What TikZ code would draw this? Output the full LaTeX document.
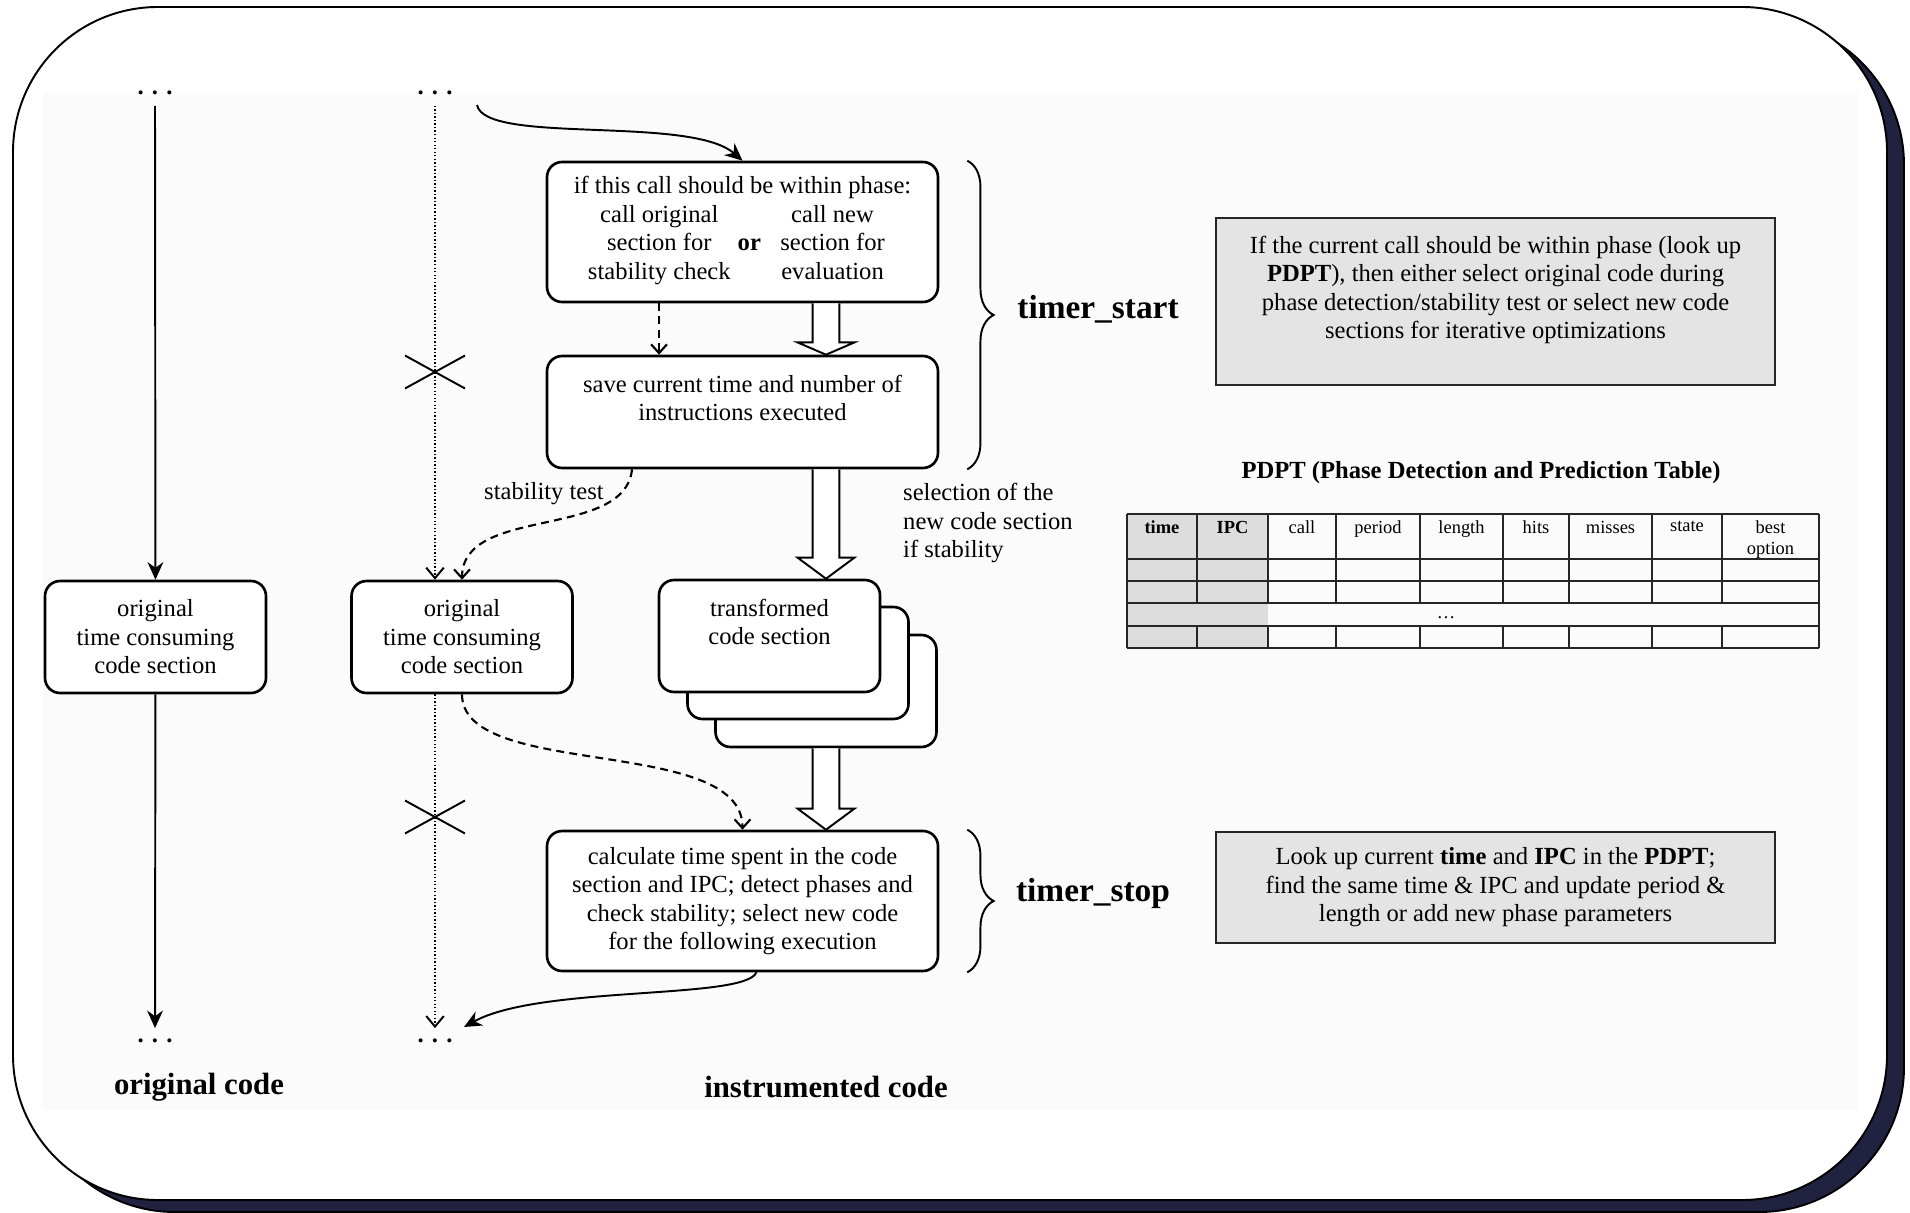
\documentclass[tikz,border=0pt]{standalone}
\usepackage{fontspec}
\setmainfont{Liberation Serif}
\usetikzlibrary{arrows.meta, calc, positioning, decorations.pathreplacing, shapes.misc}
\definecolor{FrameNavy}{HTML}{212140}
\definecolor{PanelGray}{HTML}{FBFBFB}
\definecolor{NoteGray}{HTML}{E5E4E4}
\definecolor{KeyGray}{HTML}{DDDDDD}

\newcommand{\bodyfont}{\fontsize{14}{16.2}\selectfont}
\newcommand{\cellfont}{\fontsize{10.5}{12}\selectfont}

\tikzset{
    % boxes of the code flow
    codebox/.style={
        rectangle,
        rounded corners=0.3cm,
        draw=black,
        fill=white,
        line width=1.5pt,
        minimum width=4.42cm,
        minimum height=2.24cm,
        inner sep=2pt,
        align=center,
        font=\bodyfont
    },
    stepbox/.style={codebox, minimum width=7.82cm},
    notebox/.style={
        rectangle,
        draw=black!85,
        fill=NoteGray,
        line width=1.2pt,
        minimum width=11.18cm,
        align=center,
        font=\bodyfont
    },
    contdots/.style={font=\bodyfont\bfseries, inner sep=6pt},
    codelabel/.style={font=\fontsize{17.5}{20}\selectfont\bfseries},
    timer/.style={font=\fontsize{19}{22}\selectfont\bfseries},
    headcell/.style={font=\cellfont, align=center, anchor=north, inner sep=2pt},
    cutmark/.style={
        cross out,
        draw=black,
        line width=1.1pt,
        inner sep=0pt,
        minimum width=1.16cm,
        minimum height=0.62cm
    },
    % connectors
    arrow/.style={-{Stealth[length=10pt,width=9pt]}, line width=1.1pt},
    dasharrow/.style={-{Straight Barb[length=5pt,width=9pt]}, line width=1.2pt, dash pattern=on 4.5pt off 3pt},
    dotarrow/.style={-{Straight Barb[length=6pt,width=10pt,line width=1.1pt]}, line width=0.8pt, dash pattern=on 0.8pt off 1.2pt},
    fatarrow/.style={
        draw=black,
        fill=white,
        line width=1.1pt,
        line join=miter,
        to path={let \p1=(\tikztostart), \p2=(\tikztotarget) in
            (\x1-7.6pt,\y1) -- (\x1-7.6pt,\y2+#1) -- (\x1-16.2pt,\y2+#1) -- (\x1,\y2)
            -- (\x1+16.2pt,\y2+#1) -- (\x1+7.6pt,\y2+#1) -- (\x1+7.6pt,\y1)}
    },
    fatarrow/.default=12pt,
    timerbrace/.style={decorate, decoration={brace, amplitude=15pt}, line width=1.1pt},
    tablerule/.style={line width=1pt, draw=black!85}
}

\begin{document}
\begin{tikzpicture}[x=0.02cm, y=-0.02cm]
    \useasboundingbox (0,0) rectangle (1910,1213);

    % rounded frame with its shadow
    \filldraw[fill=FrameNavy, draw=black, line width=1.1pt, rounded corners=2.9cm] (30,20) rectangle (1904,1212);
    \filldraw[fill=white, draw=black, line width=1.1pt, rounded corners=2.9cm] (13,7) rectangle (1887,1200);
    \fill[PanelGray] (43,92) rectangle (1858,1110);

    % original code
    \node[contdots] (topA) at (155,93) {. . .};
    \node[codebox] (origA) at (155.5,637) {original\\time consuming\\code section};
    \node[contdots] (endA) at (155,1041) {. . .};
    \node[codelabel] (capA) at (199,1087) {original code};

    \draw[arrow] (topA) -- (origA);
    \draw[arrow] (origA) -- (endA);

    % instrumented code
    \node[contdots] (topB) at (435,93) {. . .};
    \node[codebox] (origB) at (462,637) {original\\time consuming\\code section};
    \node[contdots] (endB) at (435,1041) {. . .};
    \node[cutmark] (cutS) at (435,372) {};
    \node[cutmark] (cutE) at (435,817) {};
    \node[codelabel] (capB) at (826,1087) {instrumented code};

    \node[stepbox, minimum height=2.8cm] (init) at (742.5,232) {if this call should be within phase:\\
        \begin{tabular}[t]{@{}c@{\hspace{4pt}}c@{\hspace{11pt}}c@{\hspace{7pt}}}
            call original & & call new\\
            section for & \textbf{or} & section for\\
            stability check & & evaluation
        \end{tabular}};
    \node[stepbox] (save) at (742.5,412) {save current time and number of\\instructions executed\\\mbox{}};

    \node[codebox] (xform3) at (826,691) {};
    \node[codebox] (xform2) at (798,663) {};
    \node[codebox] (xform1) at (769.5,636) {transformed\\code section\\\mbox{}};

    \node[stepbox, minimum height=2.8cm] (measure) at (742.5,901) {calculate time spent in the code\\section and IPC; detect phases and\\check stability; select new code\\for the following execution};

    \node[font=\bodyfont] (stabnote) at (544,494) {stability test};
    \node[font=\bodyfont, align=left, anchor=west] (selnote) at (897,523) {selection of the\\new code section\\if stability};

    \coordinate (callin) at (477,105);
    \coordinate (callout) at (464,1027);

    \draw[dotarrow] (topB) -- (topB |- origB.north);
    \draw[dotarrow] (topB |- origB.south) -- (endB);

    \draw[arrow] (callin) .. controls (485,145) and (690,115) .. (init.north);
    \draw[dasharrow] ([xshift=-1.67cm]init.south) -- ([xshift=-1.67cm]save.north);
    \draw[fatarrow=7pt] ([xshift=1.67cm]init.south) to (save.north);
    \draw[dasharrow] ([xshift=-2.21cm]save.south) .. controls (625,540) and (462,505) .. (origB.north);
    \draw[fatarrow] ([xshift=1.67cm]save.south) to (xform1.north);
    \draw[dasharrow] (origB.south) .. controls (462,780) and (742.5,735) .. (measure.north);
    \draw[fatarrow] (xform3.south) to (measure.north);
    \draw[arrow] ([xshift=0.28cm]measure.south) .. controls (745,1000) and (540,985) .. (callout);

    % timer calls
    \draw[timerbrace] ([xshift=0.56cm]init.north east) -- ([xshift=0.56cm]save.south east);
    \draw[timerbrace] ([xshift=0.56cm]measure.north east) -- ([xshift=0.56cm]measure.south east);
    \node[timer] (tstart) at (1098,309) {timer\_start};
    \node[timer] (tstop) at (1093,893) {timer\_stop};

    % notes
    \node[notebox, minimum height=3.34cm] (startnote) at (1495.5,301.5) {If the current call should be within phase (look up\\
        \textbf{PDPT}), then either select original code during\\
        phase detection/stability test or select new code\\
        sections for iterative optimizations\\\mbox{}};
    \node[notebox, minimum height=2.22cm] (stopnote) at (1495.5,887.5) {Look up current \textbf{time} and \textbf{IPC} in the \textbf{PDPT};\\
        find the same time \& IPC and update period \&\\
        length or add new phase parameters};

    % PDPT
    \node[font=\fontsize{14}{16}\selectfont\bfseries] (pdpttitle) at (1481,473) {PDPT (Phase Detection and Prediction Table)};
    \fill[KeyGray] (1127,514) rectangle (1268,648);
    \foreach \y in {514,559,581,603,626,648}
        \draw[tablerule] (1127,\y) -- (1819,\y);
    \foreach \x in {1127,1819}
        \draw[tablerule] (\x,514) -- (\x,648);
    \foreach \x in {1197,1268,1336,1420,1503,1569,1652,1722} {
        \draw[tablerule] (\x,514) -- (\x,603);
        \draw[tablerule] (\x,626) -- (\x,648);
    }
    \foreach \x/\txt [count=\i] in {1162/\textbf{time}, 1232.5/\textbf{IPC}, 1302/call, 1378/period,
            1461.5/length, 1536/hits, 1610.5/misses, 1687/state, 1770.5/best\\option}
        \node[headcell] (head\i) at (\x,517) {\txt};
    \node[font=\cellfont] (skiprow) at (1446,618) {\dots};
\end{tikzpicture}
\end{document}
